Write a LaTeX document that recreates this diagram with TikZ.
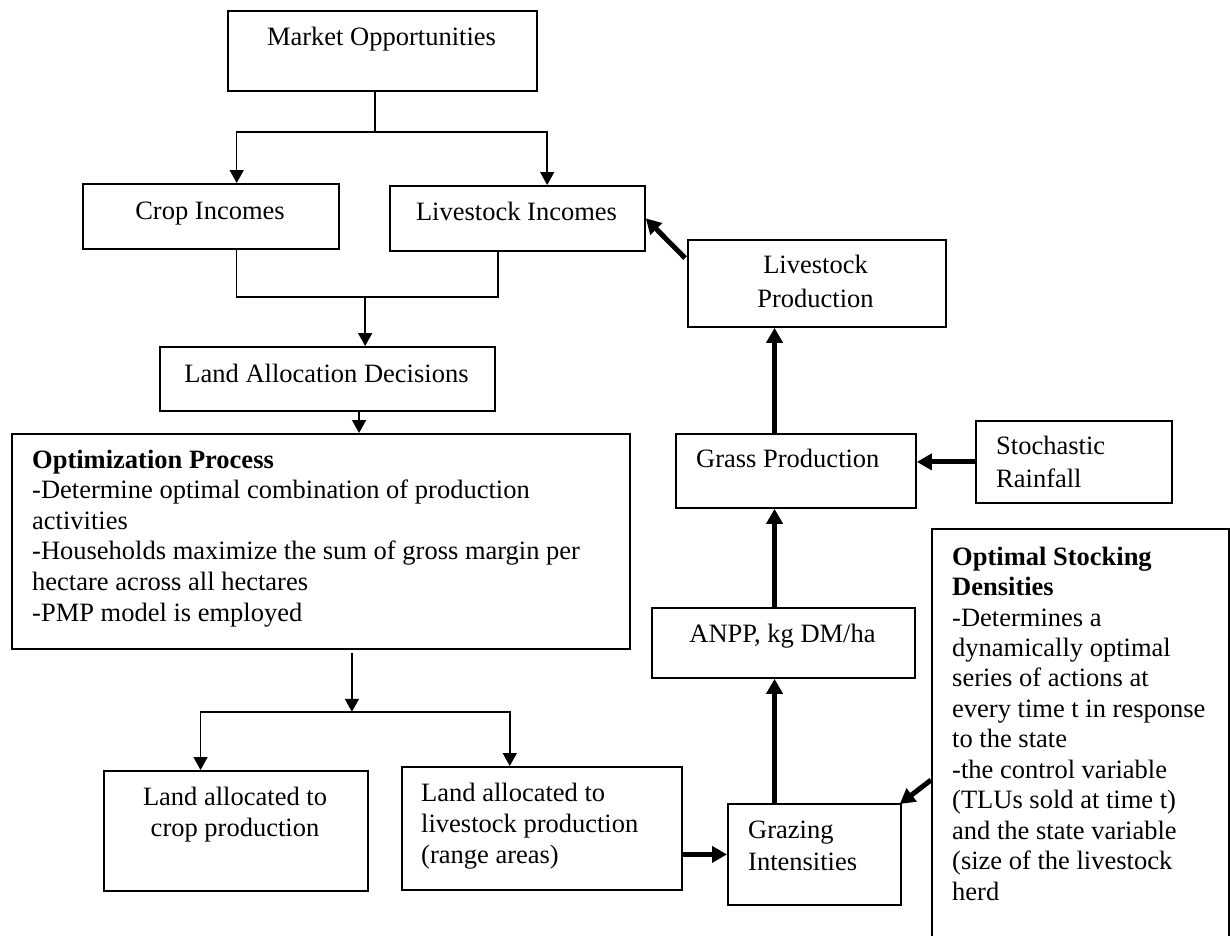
\documentclass[tikz,border=0pt]{standalone}
\usepackage{fontspec}
\setmainfont{Liberation Serif}
\usetikzlibrary{calc,arrows.meta}
\newcommand\mkbox[5]{\node[box,minimum width=#4pt-#2pt,minimum height=#5pt-#3pt] (#1) at (#2,#3) {};}
\begin{document}
\begin{tikzpicture}[x=1pt,y=-1pt,
  box/.style={draw,line width=1.8pt,inner sep=0pt,anchor=north west},
  ln/.style={line width=1.6pt},
  arr/.style={line width=1.6pt,-{Triangle[length=13pt,width=14pt]}},
  thk/.style={line width=5pt,-{Triangle[length=15pt,width=16pt]}},
  tx/.style={inner sep=0pt,font=\fontsize{26.5pt}{30.5pt}\selectfont},
  tl/.style={tx,anchor=base west},
  tc/.style={tx,anchor=base}]
\useasboundingbox (0,0) rectangle (1230,935);
\fill[white] (0,0) rectangle (1230,935);
\clip (0,0) rectangle (1230,935);

% boxes
\mkbox{mkt}{227}{10}{536}{90}
\mkbox{crop}{82}{183}{338}{248}
\mkbox{lsinc}{389}{185}{644}{250}
\mkbox{lad}{159}{346}{494}{410}
\mkbox{opt}{11}{433}{629}{648}
\mkbox{cland}{103}{770}{367}{890}
\mkbox{lland}{401}{766}{681}{889}
\mkbox{graze}{727}{803}{900}{904}
\mkbox{anpp}{651}{607}{914}{677}
\mkbox{grass}{675}{433}{915}{507}
\mkbox{stoch}{975}{420}{1171}{502}
\mkbox{lsprod}{687}{239}{945}{326}
\mkbox{osd}{931}{528}{1228}{960}

% texts
\node[tc] (t1) at (381.5,45) {Market Opportunities};
\node[tc] (t2) at (210,219) {Crop Incomes};
\node[tc] (t3) at (516.5,220) {Livestock Incomes};
\node[tc] (t4) at (326.5,382) {Land Allocation Decisions};
\node[tl] (o1) at (32,468) {\textbf{Optimization Process}};
\node[tl] (o2) at (32,498.6) {-Determine optimal combination of production};
\node[tl] (o3) at (32,529.2) {activities};
\node[tl] (o4) at (32,559.8) {-Households maximize the sum of gross margin per};
\node[tl] (o5) at (32,590.4) {hectare across all hectares};
\node[tl] (o6) at (32,621) {-PMP model is employed};
\node[tc] (c1) at (235,805) {Land allocated to};
\node[tc] (c2) at (235,836) {crop production};
\node[tl] (l1) at (421,801) {Land allocated to};
\node[tl] (l2) at (421,832) {livestock production};
\node[tl] (l3) at (421,863) {(range areas)};
\node[tc] (p1) at (815.5,273) {Livestock};
\node[tc] (p2) at (815.5,307) {Production};
\node[tl] (g1) at (696,467) {Grass Production};
\node[tl] (s1) at (996,454) {Stochastic};
\node[tl] (s2) at (996,487) {Rainfall};
\node[tc] (a1) at (782.5,642) {ANPP, kg DM/ha};
\node[tl] (z1) at (748,838) {Grazing};
\node[tl] (z2) at (748,870) {Intensities};
\node[tl] (d1) at (952,565) {\textbf{Optimal Stocking}};
\node[tl] (d2) at (952,595.5) {\textbf{Densities}};
\node[tl] (d3) at (952,626) {-Determines a};
\node[tl] (d4) at (952,656.4) {dynamically optimal};
\node[tl] (d5) at (952,686.8) {series of actions at};
\node[tl] (d6) at (952,717.3) {every time t in response};
\node[tl] (d7) at (952,747.7) {to the state};
\node[tl] (d8) at (952,778.2) {-the control variable};
\node[tl] (d9) at (952,808.6) {(TLUs sold at time t)};
\node[tl] (d10) at (952,839) {and the state variable};
\node[tl] (d11) at (952,869.5) {(size of the livestock};
\node[tl] (d12) at (952,900) {herd};

% connectors: market -> incomes
\coordinate (mB) at ($(mkt.south west)!0.476!(mkt.south east)$);
\coordinate (j1) at ($(mB)+(0,40)$);
\coordinate (cA) at ($(crop.north west)!0.6!(crop.north east)$);
\coordinate (lA) at ($(lsinc.north west)!0.616!(lsinc.north east)$);
\draw[ln] (mB) -- (j1);
\draw[arr] (j1) -| (cA);
\draw[arr] (j1) -| (lA);

% incomes -> land allocation
\coordinate (cB) at ($(crop.south west)!0.6!(crop.south east)$);
\coordinate (lB) at ($(lsinc.south west)!0.4235!(lsinc.south east)$);
\coordinate (j2) at ($(cB)+(0,47)$);
\coordinate (dA) at ($(lad.north west)!0.612!(lad.north east)$);
\draw[ln] (cB) -- (j2) -| (lB);
\draw[arr] (dA |- j2) -- (dA);

% land allocation -> optimization
\coordinate (dB) at ($(lad.south west)!0.594!(lad.south east)$);
\draw[arr] (dB) -- (dB |- opt.north);

% optimization -> land allocated
\coordinate (oB) at ($(opt.south west)!0.55!(opt.south east)+(0,3)$);
\coordinate (j3) at ($(opt.south west)!0.55!(opt.south east)+(0,62)$);
\coordinate (cC) at ($(cland.north west)!0.367!(cland.north east)$);
\coordinate (lC) at ($(lland.north west)!0.386!(lland.north east)$);
\draw[arr] (oB) -- (j3);
\draw[arr] (j3) -| (cC);
\draw[arr] (j3) -| (lC);

% thick arrows
\coordinate (gA) at ($(graze.north west)!0.272!(graze.north east)$);
\draw[thk] (lland.east |- graze.west) -- (graze.west);
\draw[thk] (gA) -- (gA |- anpp.south);
\draw[thk] (gA |- anpp.north) -- (gA |- grass.south);
\draw[thk] (gA |- grass.north) -- (gA |- lsprod.south);
\draw[thk] (stoch.west) -- (stoch.west -| grass.east);
\draw[thk] ($(lsprod.north west)+(-2,19)$) -- (lsinc.east);
\draw[thk] ($(osd.north west)+(0,252)$) -- ($(graze.north east)+(-2,1)$);
\end{tikzpicture}
\end{document}
